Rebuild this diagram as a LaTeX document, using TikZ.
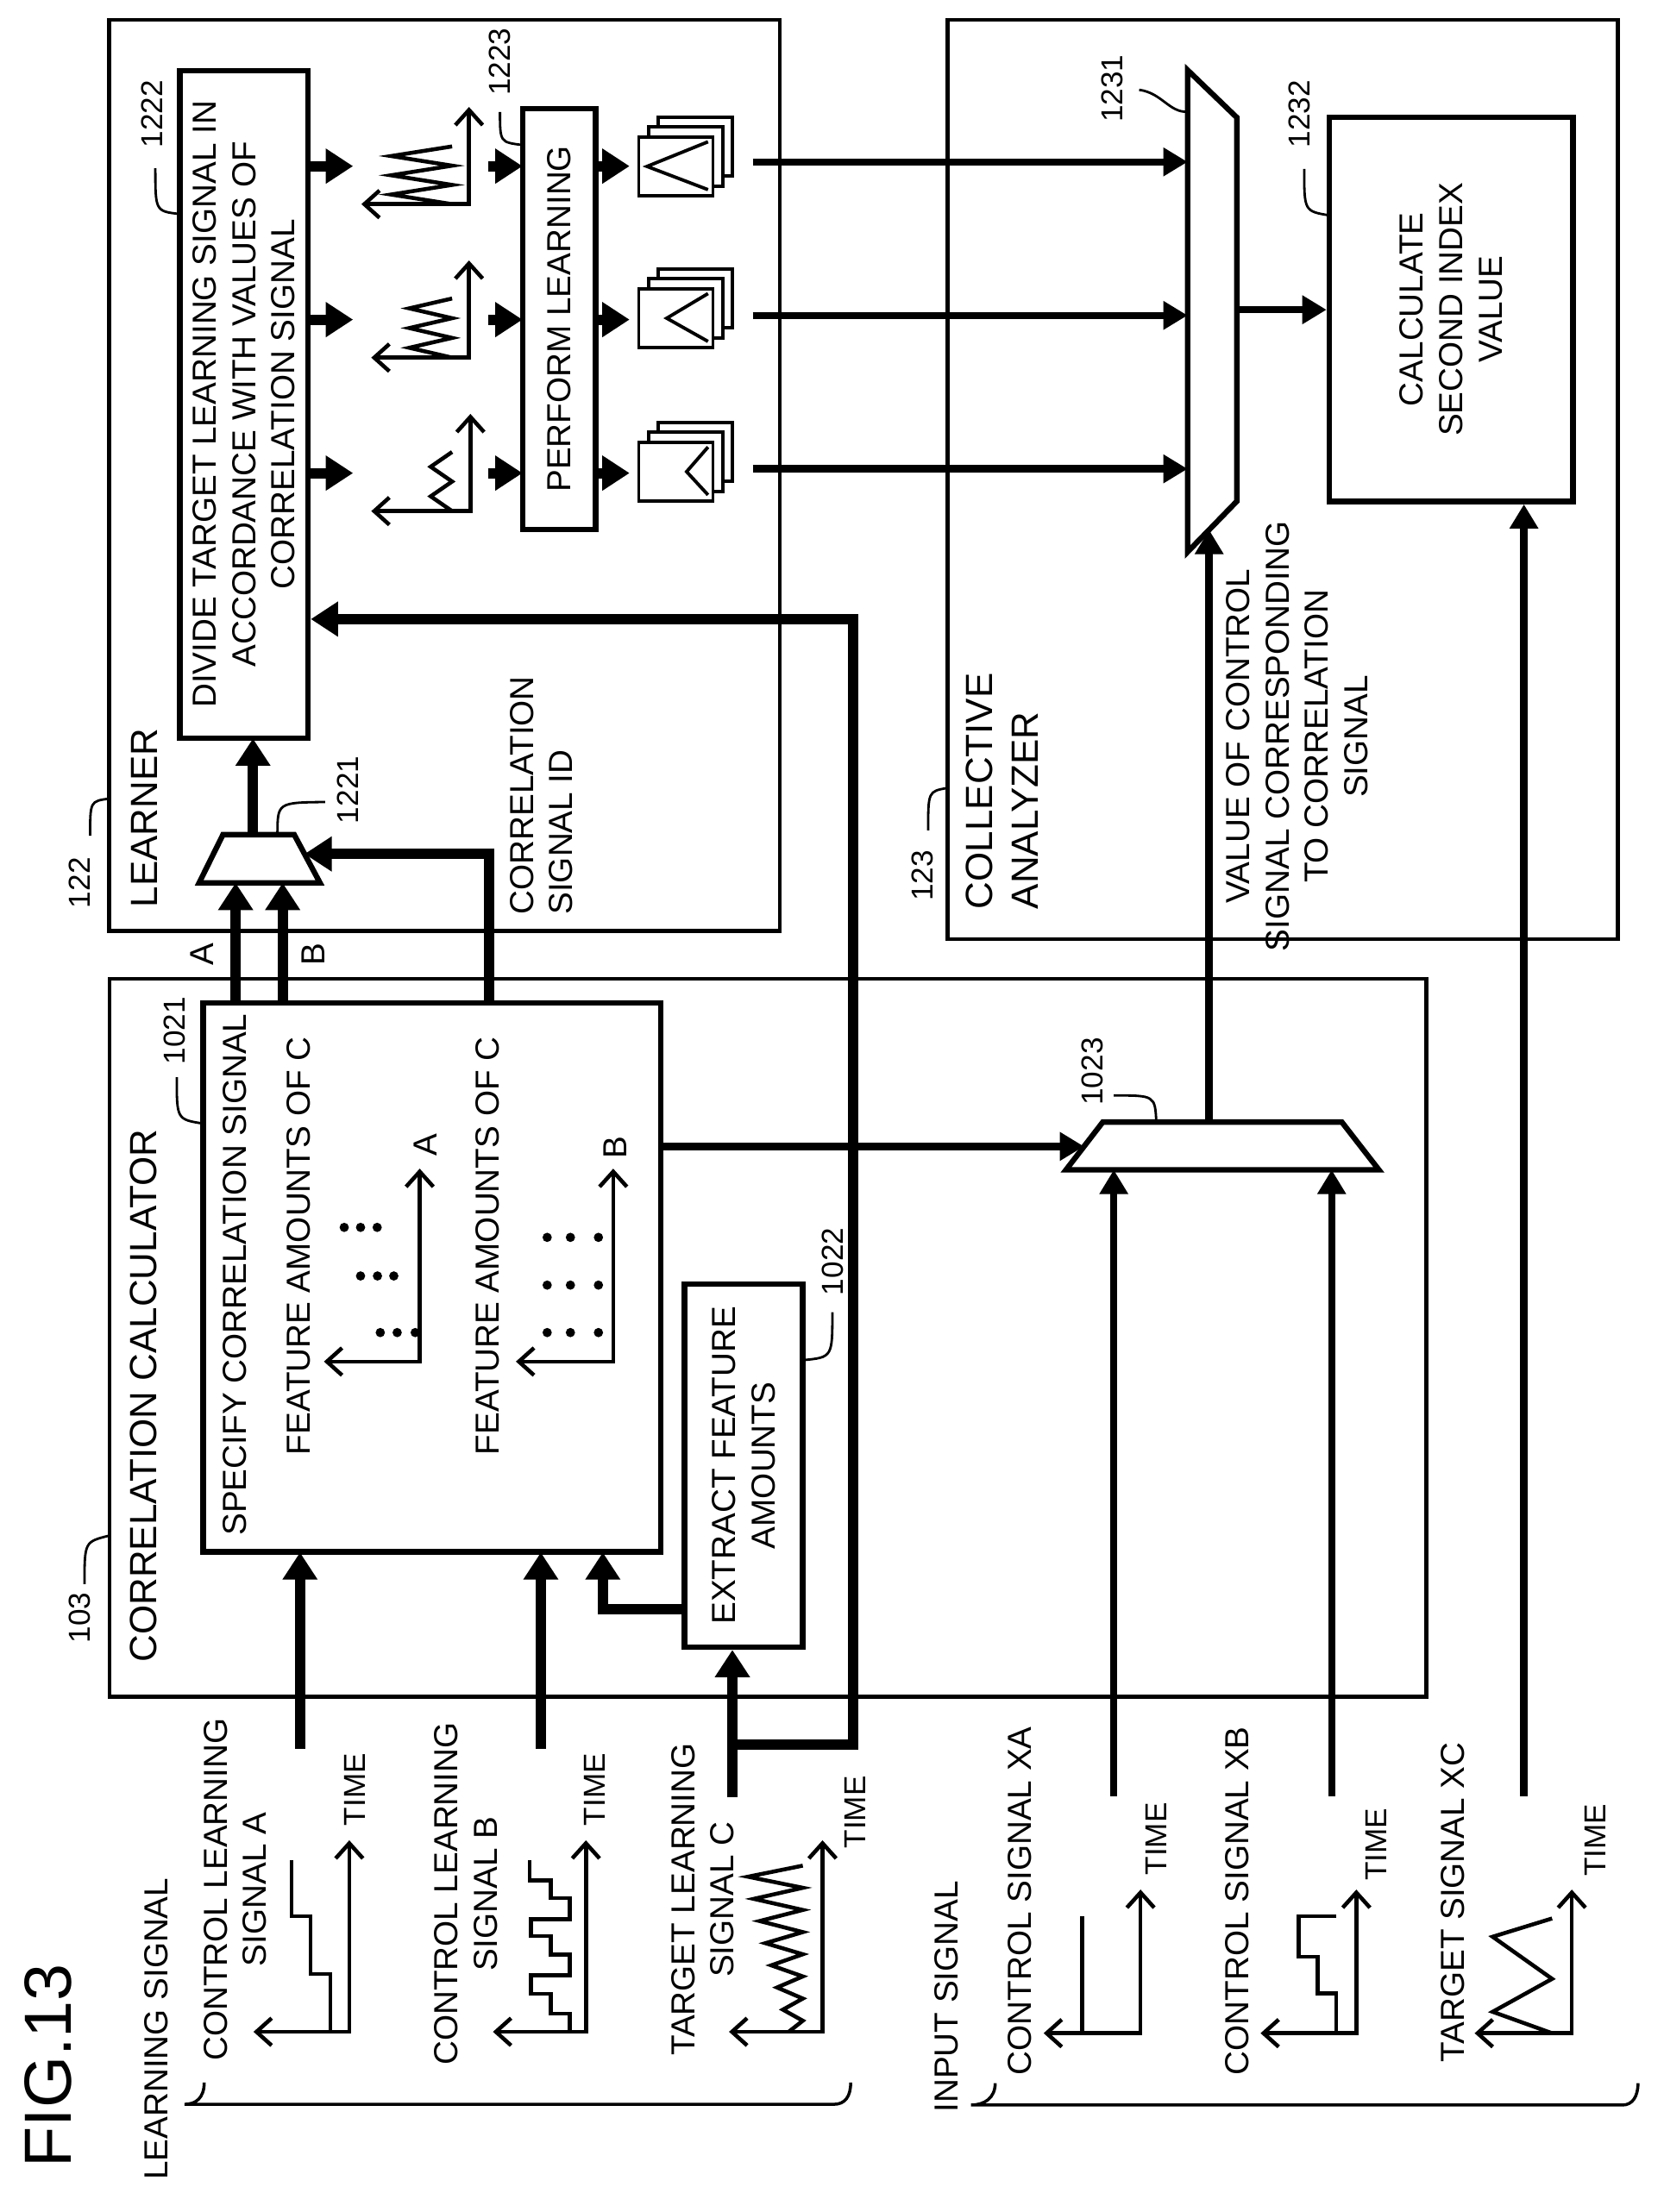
\documentclass[tikz,border=0pt]{standalone}
\usepackage{fontspec}
\setmainfont{Liberation Sans}
\usetikzlibrary{arrows.meta,positioning}
\def\px{0.016326cm}
\tikzset{
  frame/.style={draw, line width=1.3pt, inner sep=0pt},
  blk/.style={draw, line width=1.8pt, inner sep=0pt},
  fat/.style={line width=3.4pt, -{Triangle[length=9pt,width=11pt]}},
  mid/.style={line width=2.4pt, -{Triangle[length=8pt,width=9pt]}},
  axis/.style={line width=1.3pt, {Straight Barb[length=5pt,width=9pt]}-{Straight Barb[length=5pt,width=9pt]}},
  sig/.style={line width=1.3pt},
  txt/.style={rotate=90, font=\fontsize{11}{13}\selectfont, align=center, inner sep=0pt},
  big/.style={txt, font=\fontsize{12.5}{15}\selectfont},
  ref/.style={txt, font=\fontsize{10}{12}\selectfont},
  lead/.style={line width=0.8pt},
  dot/.style={fill=black}
}
% one stack of learned models
\newcommand{\modelstack}[2]{%
  \foreach \d in {14,7,0}
    \draw[line width=1.1pt, fill=white] (453.5+\d,#1-\d) rectangle (506.2+\d,#1+42-\d);
  \draw[line width=1.1pt] (502.7,#1+3.5) -- (#2,#1+21) -- (502.7,#1+37.5);
}
% zigzag: bottom y, top y, right x, left x, segments
\newcommand{\zig}[5]{%
  \draw[sig] (#3,#1) \foreach \i in {1,...,#5} { -- ({ifthenelse(isodd(\i),#4,#3)}, {#1-(#1-#2)*\i/#5}) };
}
\begin{document}
\begin{tikzpicture}[x=0.016326cm, y=-0.016326cm]
  \useasboundingbox (0,0) rectangle (1181,1571);

  % containers
  \node[frame, minimum width={476*\px}, minimum height={647*\px}] (learner) at (315.6,337.7) {};
  \node[frame, minimum width={476*\px}, minimum height={653*\px}] (analyzer) at (910.7,340.5) {};
  \node[frame, minimum width={935*\px}, minimum height={510*\px}] (corr) at (545.3,950.2) {};

  % blocks
  \node[blk, minimum width={325*\px}, minimum height={390*\px}] (spec) at (306.7,907.2) {};
  \node[blk, minimum width={84*\px}, minimum height={258*\px}] (extract) at (527.9,1040.8) {};
  \node[blk, minimum width={91*\px}, minimum height={474*\px}] (divide) at (173.2,287.2) {};
  \node[blk, minimum width={52*\px}, minimum height={299*\px}] (perform) at (397,226.5) {};
  \node[blk, minimum width={173*\px}, minimum height={273*\px}] (calc) at (1030.3,219.7) {};

  % texts in blocks
  \node[txt] (dividetext) at (divide) {DIVIDE TARGET LEARNING SIGNAL IN\\ACCORDANCE WITH VALUES OF\\CORRELATION SIGNAL};
  \node[txt] (performtext) at (perform) {PERFORM LEARNING};
  \node[txt] (calctext) at (calc) {CALCULATE\\SECOND INDEX\\VALUE};
  \node[txt] (extracttext) at (extract) {EXTRACT FEATURE\\AMOUNTS};
  \node[txt, anchor=west] (spectext) at (167,1091) {SPECIFY CORRELATION SIGNAL};
  \node[txt] (featA) at (212,885) {FEATURE AMOUNTS OF C};
  \node[txt] (featB) at (346.3,885) {FEATURE AMOUNTS OF C};
  \node[txt] (labA) at (302,813) {A};
  \node[txt] (labB) at (437,815) {B};

  % container labels
  \node[big, anchor=west] (corrtext) at (101.7,1181) {CORRELATION CALCULATOR};
  \node[big, anchor=west] (learnertext) at (102.3,645) {LEARNER};
  \node[big, anchor=west, align=left] (analyzertext) at (711.6,646) {COLLECTIVE\\ANALYZER};
  \node[txt, anchor=west, align=left] (idtext) at (384.5,650) {CORRELATION\\SIGNAL ID};
  \node[txt] (valuetext) at (921,523) {VALUE OF CONTROL\\SIGNAL CORRESPONDING\\TO CORRELATION\\SIGNAL};
  \node[txt] (outA) at (143.3,677.6) {A};
  \node[txt] (outB) at (222.6,677.6) {B};

  % reference numbers
  \node[ref] (r103) at (56.5,1149) {103};
  \node[ref] (r122) at (56.5,627) {122};
  \node[ref] (r123) at (655,622) {123};
  \node[ref] (r1021) at (124,732) {1021};
  \node[ref] (r1022) at (591,896) {1022};
  \node[ref] (r1023) at (775.7,761) {1023};
  \node[ref] (r1221) at (247,561) {1221};
  \node[ref] (r1222) at (108.2,81) {1222};
  \node[ref] (r1223) at (355,44) {1223};
  \node[ref] (r1231) at (790,63) {1231};
  \node[ref] (r1232) at (922.9,81) {1232};
  \draw[lead] (60,1125) .. controls (60,1095) .. (77.6,1090.6);
  \draw[lead] (64,593.5) .. controls (64,569) .. (77.6,567.2);
  \draw[lead] (659,589.8) .. controls (659,562) .. (672.9,559.6);
  \draw[lead] (125.5,765) .. controls (125.5,795) .. (144.3,798);
  \draw[lead] (591,932) .. controls (591,964) .. (570,966);
  \draw[lead] (790.8,778) .. controls (820,778) .. (821,796.9);
  \draw[lead] (230.8,569.6) .. controls (197,570) .. (197,592.8);
  \draw[lead] (110.3,119.5) .. controls (110.3,150) .. (127.6,152);
  \draw[lead] (355,79.6) .. controls (355,101) .. (371,103);
  \draw[lead] (808.8,63.8) .. controls (825,66) and (830,80) .. (843.2,79.4);
  \draw[lead] (926,120) .. controls (926,150) .. (944,153);

  % selectors
  \coordinate (m1221) at (184.3,610);
  \draw[line width=1.8pt, fill=white] (158.3,592.8) -- (208.9,592.8) -- (227.2,627) -- (141.4,627) -- cycle;
  \coordinate (m1023) at (868,814);
  \draw[line width=1.8pt, fill=white] (783,796.9) -- (952.7,796.9) -- (979,830.8) -- (756.9,830.8) -- cycle;
  \coordinate (m1231) at (860.7,221);
  \draw[line width=1.8pt, fill=white] (843.2,49.8) -- (878.2,83.5) -- (878.2,356) -- (843.2,392) -- cycle;

  % learner internals
  \foreach \y/\top in {118/76, 227/185, 336/294} {
    \draw[fat] (218.8,\y) -- (250.7,\y);
    \draw[fat] (346.8,\y) -- (371,\y);
    \draw[fat] (423,\y) -- (447,\y);
  }
  \draw[axis] (256.6,145) -- (333,145) -- (333,76);
  \draw[axis] (263.6,254) -- (333,254) -- (333,185);
  \draw[axis] (263.6,363) -- (334,363) -- (334,294);
  \zig{145}{104}{321}{277.7}{6}
  \zig{254}{212}{321}{290.6}{6}
  \zig{363}{321}{321}{305.8}{4}
  \modelstack{97.2}{459.4}
  \modelstack{205}{473.4}
  \modelstack{314}{487.5}

  % analyzer connections
  \foreach \y in {115, 224, 333}
    \draw[mid] (534.4,\y) -- (843.2,\y);
  \draw[mid] (878.2,220) -- (calc.west |- 0,220);

  % specify block internals
  \draw[axis] (230,967) -- (298,967) -- (298,830);
  \draw[axis] (366.3,967) -- (435.4,967) -- (435.4,830);
  \foreach \x/\y in {244.4/871.7, 256/871.7, 267.8/871.7, 256/906.2, 268/906.2, 279.6/906.2, 270/946.4, 282/946.4, 294.8/946.4}
    \fill[dot] (\x,\y) circle (3.3);
  \foreach \x in {388.5, 405, 424.9}
    \foreach \y in {878.8, 912.7, 946.4}
      \fill[dot] (\x,\y) circle (3.3);

  % correlation calculator connections
  \draw[fat] (167.3,712) -- (167.3,627);
  \draw[fat] (200.7,712) -- (200.7,627);
  \draw[fat] (347,712) -- (347,606.5) -- (216.2,606.5);
  \draw[fat] (179.6,592.8) -- (179.6,524.5);
  \draw[fat] (extract.west |- 0,1143) -- (428,1143) -- (428,1102.5);
  \draw[mid] (469,814.2) -- (769.7,814.2);
  \draw[mid] (858.5,796.9) -- (858.5,376.3);

  % learning signals
  \node[txt] (ctrlA) at (167,1342) {CONTROL LEARNING\\SIGNAL A};
  \node[txt] (ctrlB) at (331,1345) {CONTROL LEARNING\\SIGNAL B};
  \node[txt] (targC) at (499,1349) {TARGET LEARNING\\SIGNAL C};
  \node[ref] (timeA) at (252,1271) {TIME};
  \node[ref] (timeB) at (422,1271) {TIME};
  \node[ref] (timeC) at (607.5,1287) {TIME};
  \draw[axis] (180,1443) -- (248,1443) -- (248,1307);
  \draw[axis] (350,1443) -- (416,1443) -- (416,1307);
  \draw[axis] (517.6,1443) -- (584,1443) -- (584,1307);
  \draw[sig] (207,1321) -- (207,1361) -- (220.6,1361) -- (220.6,1402) -- (234.5,1402) -- (234.5,1443);
  \draw[sig] (376,1321) -- (376,1335.5) -- (391,1335.5) -- (391,1348) -- (404.5,1348) -- (404.5,1363)
    -- (377,1363) -- (377,1375) -- (391,1375) -- (391,1388) -- (404.5,1388) -- (404.5,1403)
    -- (377,1403) -- (377,1416) -- (391,1416) -- (391,1430) -- (404.5,1430) -- (404.5,1443);
  \draw[sig] (560,1443) \foreach \i in {1,...,15} { -- ({ifthenelse(isodd(\i),570,560-31*\i/15)}, {1443-118*\i/15}) };
  \draw[fat] (213,1242) -- (213,1102.5);
  \draw[fat] (384,1242) -- (384,1102.5);
  \draw[fat] (520,1276.5) -- (extract.south -| 520,0);
  \draw[fat] (520,1239) -- (606,1239) -- (606,439.7) -- (divide.east |- 0,439.7);
  \node[txt] (learnsig) at (111,1441) {LEARNING SIGNAL};
  \draw[lead, line width=1pt] (145,1479) .. controls (145,1490) and (139,1494.5) .. (131,1494.5) -- (592,1494.5) .. controls (600,1494.5) and (604,1489) .. (604,1479);

  % input signals
  \node[txt] (sigXA) at (723.8,1350) {CONTROL SIGNAL XA};
  \node[txt] (sigXB) at (878.4,1350) {CONTROL SIGNAL XB};
  \node[txt] (sigXC) at (1031.5,1351) {TARGET SIGNAL XC};
  \node[ref] (timeXA) at (820.7,1306) {TIME};
  \node[ref] (timeXB) at (977,1310) {TIME};
  \node[ref] (timeXC) at (1133,1307) {TIME};
  \draw[axis] (741,1444) -- (809.8,1444) -- (809.8,1342);
  \draw[axis] (895,1444) -- (963,1444) -- (963,1342);
  \draw[axis] (1047,1444) -- (1116,1444) -- (1116,1342);
  \draw[sig] (768.5,1361) -- (768.5,1444);
  \draw[sig] (948.8,1361) -- (922,1361) -- (922,1389.8) -- (935.7,1389.8) -- (935.7,1415.8) -- (948.8,1415.8) -- (948.8,1444);
  \draw[sig] (1102,1362.5) -- (1059.8,1375.5) -- (1102,1405.4) -- (1059.8,1428.8) -- (1102,1444);
  \draw[mid] (790.8,1275.5) -- (790.8,830.8);
  \draw[mid] (945.5,1275.5) -- (945.5,830.8);
  \draw[mid] (1082,1275.5) -- (calc.south -| 1082,0);
  \node[txt] (inputsig) at (672,1418) {INPUT SIGNAL};
  \draw[lead, line width=1pt] (706.6,1479.5) .. controls (706.6,1490) and (699,1495) .. (689.4,1495) -- (1152,1495) .. controls (1159,1495) and (1163,1489) .. (1163,1479.5);

  \node[txt, font=\fontsize{22}{24}\selectfont] (fig) at (34,1467) {FIG.13};
\end{tikzpicture}
\end{document}
